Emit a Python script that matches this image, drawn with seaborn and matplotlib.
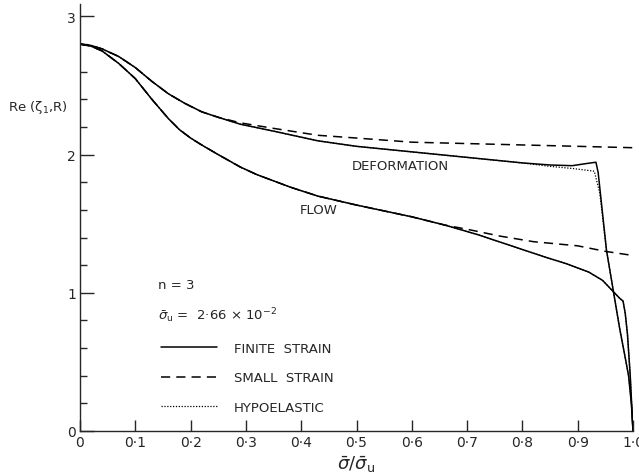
import matplotlib
matplotlib.use("Agg")
import matplotlib.pyplot as plt
from matplotlib.lines import Line2D
import seaborn as sns
import pandas as pd

# ---- data ----
def_fin_x = [0.0, 0.02, 0.04, 0.07, 0.10, 0.13, 0.16, 0.19, 0.22, 0.25, 0.29, 0.35, 0.43, 0.50,
             0.60, 0.70, 0.75, 0.80, 0.85, 0.89, 0.915, 0.933, 0.937, 0.952, 0.965, 0.976, 0.985,
             0.992, 0.997, 1.0]
def_fin_y = [2.80, 2.79, 2.765, 2.71, 2.63, 2.53, 2.44, 2.37, 2.31, 2.27, 2.22, 2.17, 2.10, 2.06,
             2.02, 1.98, 1.96, 1.94, 1.925, 1.92, 1.935, 1.945, 1.87, 1.31, 1.00, 0.74, 0.55,
             0.40, 0.20, 0.0]

def_small_x = [0.0, 0.02, 0.04, 0.07, 0.10, 0.13, 0.16, 0.19, 0.22, 0.25, 0.29, 0.35, 0.43, 0.50,
               0.60, 0.70, 0.80, 0.90, 1.0]
def_small_y = [2.80, 2.79, 2.765, 2.71, 2.63, 2.53, 2.44, 2.37, 2.31, 2.27, 2.23, 2.19, 2.14, 2.12,
               2.09, 2.08, 2.07, 2.06, 2.05]

def_hypo_x = [0.0, 0.02, 0.04, 0.07, 0.10, 0.13, 0.16, 0.19, 0.22, 0.25, 0.29, 0.35, 0.43, 0.50,
              0.60, 0.70, 0.75, 0.80, 0.82, 0.85, 0.89, 0.93, 0.94, 0.952, 0.965, 0.976, 0.985,
              0.992, 0.997, 1.0]
def_hypo_y = [2.80, 2.79, 2.765, 2.71, 2.63, 2.53, 2.44, 2.37, 2.31, 2.27, 2.22, 2.17, 2.10, 2.06,
              2.02, 1.98, 1.96, 1.94, 1.93, 1.915, 1.90, 1.88, 1.72, 1.31, 1.00, 0.74, 0.55,
              0.40, 0.20, 0.0]

flow_fin_x = [0.0, 0.02, 0.04, 0.07, 0.10, 0.13, 0.16, 0.18, 0.20, 0.22, 0.25, 0.29, 0.32, 0.38,
              0.43, 0.50, 0.60, 0.66, 0.72, 0.78, 0.84, 0.88, 0.92, 0.945, 0.964, 0.976, 0.982,
              0.986, 0.99, 0.995, 1.0]
flow_fin_y = [2.80, 2.785, 2.75, 2.66, 2.55, 2.40, 2.26, 2.18, 2.12, 2.07, 2.00, 1.91, 1.855, 1.765,
              1.70, 1.635, 1.55, 1.49, 1.42, 1.34, 1.26, 1.21, 1.15, 1.09, 1.01, 0.96, 0.94,
              0.85, 0.70, 0.40, 0.0]

flow_small_x = [0.0, 0.02, 0.04, 0.07, 0.10, 0.13, 0.16, 0.18, 0.20, 0.22, 0.25, 0.29, 0.32, 0.38,
                0.43, 0.50, 0.60, 0.66, 0.70, 0.76, 0.82, 0.90, 0.95, 1.0]
flow_small_y = [2.80, 2.785, 2.75, 2.66, 2.55, 2.40, 2.26, 2.18, 2.12, 2.07, 2.00, 1.91, 1.855, 1.765,
                1.70, 1.635, 1.55, 1.49, 1.46, 1.41, 1.37, 1.34, 1.30, 1.27]

flow_hypo_x = [0.0, 0.02, 0.04, 0.07, 0.10, 0.13, 0.16, 0.18, 0.20, 0.22, 0.25, 0.29, 0.32, 0.38,
               0.43, 0.50, 0.60, 0.66, 0.72, 0.78, 0.84, 0.88, 0.92, 0.945, 0.964, 0.976, 0.982,
               0.986, 0.99, 0.995, 1.0]
flow_hypo_y = [2.80, 2.785, 2.75, 2.66, 2.55, 2.40, 2.26, 2.18, 2.12, 2.07, 2.00, 1.91, 1.855, 1.765,
               1.70, 1.635, 1.55, 1.49, 1.42, 1.34, 1.26, 1.21, 1.15, 1.09, 1.01, 0.96, 0.94,
               0.85, 0.70, 0.40, 0.0]

x_ticks = [0.0, 0.1, 0.2, 0.3, 0.4, 0.5, 0.6, 0.7, 0.8, 0.9, 1.0]
x_tick_labels = ["0", "0·1", "0·2", "0·3", "0·4", "0·5", "0·6", "0·7", "0·8", "0·9", "1·0"]
y_ticks = [0, 1, 2, 3]
y_tick_labels = ["0", "1", "2", "3"]
legend_labels = ["FINITE  STRAIN", "SMALL  STRAIN", "HYPOELASTIC"]

# ---- plotting ----
sns.set_style("ticks")
plt.rcParams["font.family"] = ["DejaVu Sans"]

fig = plt.figure(figsize=(6.39, 4.77), dpi=100)
ax = fig.add_axes([80 / 639, 45 / 477, 553 / 639, 427 / 477])

lw = 1.1
fs = 9.5

series = [
    (def_fin_x, def_fin_y, "-", lw),
    (def_small_x, def_small_y, (0, (6, 4)), lw),
    (def_hypo_x, def_hypo_y, (0, (1, 1.3)), 0.9),
    (flow_fin_x, flow_fin_y, "-", lw),
    (flow_small_x, flow_small_y, (0, (6, 4)), lw),
    (flow_hypo_x, flow_hypo_y, (0, (1, 1.3)), 0.9),
]
for xs, ys, ls, w in series:
    df = pd.DataFrame({"x": xs, "y": ys})
    sns.lineplot(data=df, x="x", y="y", ax=ax, color="black", linewidth=w,
                 linestyle=ls, sort=False, estimator=None)

ax.set_xlim(0, 1.0)
ax.set_ylim(0, 3.09)
ax.set_xticks(x_ticks)
ax.set_xticklabels(x_tick_labels, fontsize=fs + 0.5)
ax.set_yticks(y_ticks)
ax.set_yticklabels(y_tick_labels, fontsize=fs + 0.5)
ax.set_yticks([0.2 * i for i in range(1, 15) if i % 5 != 0], minor=True)
ax.tick_params(axis="x", direction="in", length=8, width=1, pad=3)
ax.tick_params(axis="y", which="major", direction="in", length=10, width=1, pad=3)
ax.tick_params(axis="y", which="minor", direction="in", length=5, width=1)
sns.despine(ax=ax)
for s in ["left", "bottom"]:
    ax.spines[s].set_linewidth(1.0)

ax.set_xlabel(r"$\bar{\sigma}/\bar{\sigma}_\mathrm{u}$", fontsize=13, labelpad=3)
ax.set_ylabel("")
fig.text(8 / 639, 1 - 107 / 477, "Re (ζ$_1$,R)", fontsize=fs, va="center", ha="left")

ax.text(0.579, 1.92, "DEFORMATION", fontsize=fs, ha="center", va="center")
ax.text(0.432, 1.60, "FLOW", fontsize=fs, ha="center", va="center")
ax.text(0.141, 1.06, "n = 3", fontsize=fs, ha="left", va="center")
ax.text(0.141, 0.84, r"$\bar{\sigma}_\mathrm{u}$ =  2·66 × 10$^{-2}$", fontsize=fs,
        ha="left", va="center")

handles = [Line2D([], [], color="black", lw=lw, ls="-"),
           Line2D([], [], color="black", lw=lw, ls=(0, (6, 4))),
           Line2D([], [], color="black", lw=0.9, ls=(0, (1, 1.3)))]
ax.legend(handles, legend_labels, loc="upper left", bbox_to_anchor=(0.147, 0.209),
          frameon=False, fontsize=fs, handlelength=4.2, handletextpad=1.3,
          labelspacing=1.25, borderaxespad=0, borderpad=0)

fig.savefig("out.png", dpi=100)
